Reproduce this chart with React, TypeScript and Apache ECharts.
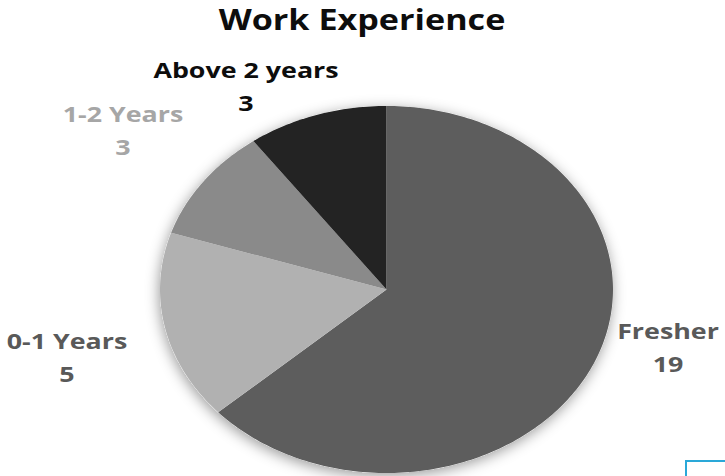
import React, { useEffect, useRef } from "react";
import * as echarts from "echarts";

// ---- data ----
const categories = ["Fresher", "0-1 Years", "1-2 Years", "Above 2 years"];
const values = [19, 5, 3, 3];
const titleText = "Work Experience";

// ---- styles / layout ----
const sliceColors = ["#5d5d5d", "#b1b1b1", "#8a8a8a", "#232323"];
const labelColors = ["#595959", "#595959", "#a6a6a6", "#0d0d0d"];
const PIE = { cx: 386.5, cy: 289.5, rx: 226.5, ry: 183.5 };
const LABEL_POS: number[][] = [
  [668, 347],
  [67, 357],
  [123, 130],
  [246, 86],
];
const SX = 1.22;
const FONT = '"Open Sans", "Noto Sans", sans-serif';

export default function App() {
  const ref = useRef<HTMLDivElement>(null);

  useEffect(() => {
    if (!ref.current) return;
    const chart = echarts.init(ref.current, undefined, { renderer: "svg" });
    const total = values.reduce((a, b) => a + b, 0);

    const renderItem = (params: any, api: any) => {
      const i = params.dataIndex;
      const v = api.value(0);
      let before = 0;
      for (let k = 0; k < i; k++) before += values[k];
      const a0 = (before / total) * Math.PI * 2;
      const a1 = ((before + v) / total) * Math.PI * 2;
      const n = Math.max(2, Math.ceil((a1 - a0) / (Math.PI / 180)));
      const pts: number[][] = [[PIE.cx, PIE.cy]];
      for (let j = 0; j <= n; j++) {
        const a = a0 + ((a1 - a0) * j) / n;
        pts.push([PIE.cx + PIE.rx * Math.sin(a), PIE.cy - PIE.ry * Math.cos(a)]);
      }
      const children: any[] = [];
      if (i === 0) {
        children.push({
          type: "ellipse",
          shape: { cx: PIE.cx, cy: PIE.cy, rx: PIE.rx, ry: PIE.ry },
          style: {
            fill: "#ffffff",
            shadowBlur: 14,
            shadowColor: "rgba(0,0,0,0.4)",
            shadowOffsetX: -1,
            shadowOffsetY: 3,
          },
        });
      }
      children.push({
        type: "polygon",
        shape: { points: pts },
        style: { fill: sliceColors[i] },
      });
      children.push({
        type: "text",
        x: LABEL_POS[i][0],
        y: LABEL_POS[i][1],
        scaleX: SX,
        style: {
          text: `${categories[i]}\n${v}`,
          fill: labelColors[i],
          fontSize: 22,
          fontWeight: "bold",
          fontFamily: FONT,
          align: "center",
          verticalAlign: "middle",
          lineHeight: 33,
        },
      });
      return { type: "group", children };
    };

    chart.setOption({
      animation: false,
      backgroundColor: "#ffffff",
      graphic: [
        {
          type: "text",
          x: 362,
          y: 19,
          scaleX: SX,
          style: {
            text: titleText,
            fill: "#0d0d0d",
            fontSize: 28,
            fontWeight: "bold",
            fontFamily: FONT,
            align: "center",
            verticalAlign: "middle",
          },
        },
        {
          type: "rect",
          shape: { x: 686, y: 461, width: 60, height: 40 },
          style: { fill: "none", stroke: "#2aa8d8", lineWidth: 2 },
        },
      ],
      series: [
        {
          type: "custom",
          coordinateSystem: "none",
          renderItem,
          data: values.map((v) => [v]),
        },
      ],
    });

    return () => chart.dispose();
  }, []);

  return (
    <div
      ref={ref}
      style={{ position: "fixed", left: 0, top: 0, width: 725, height: 476 }}
    />
  );
}
